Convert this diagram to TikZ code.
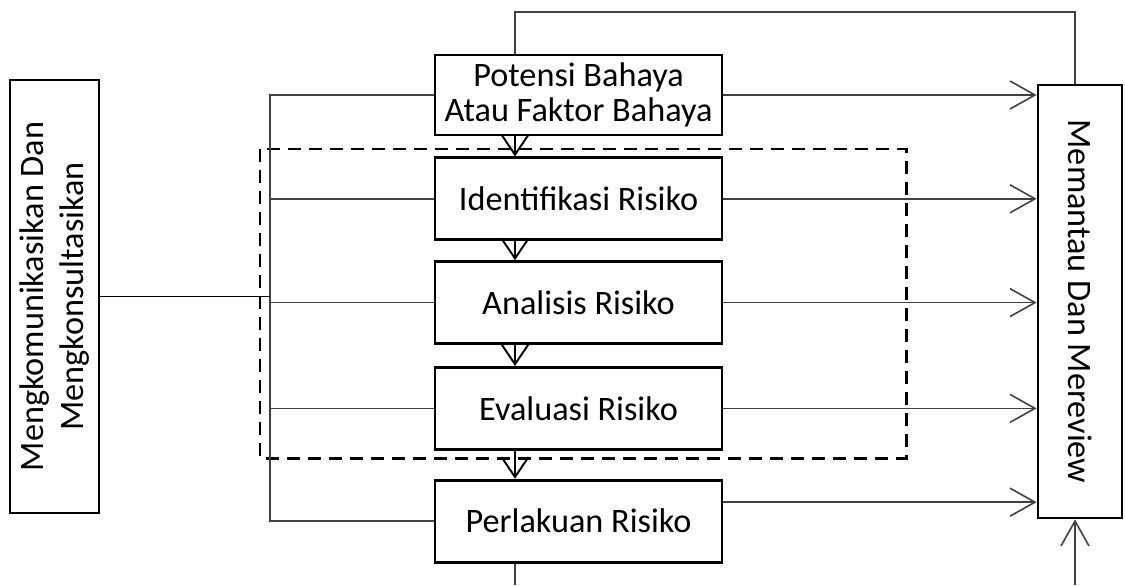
\documentclass[tikz,border=0pt]{standalone}
\usepackage{fontspec}
\setmainfont{Carlito}
\usetikzlibrary{arrows.meta,positioning,calc}

\begin{document}
\begin{tikzpicture}[x=0.02cm,y=-0.02cm,
  font=\fontsize{19.5}{20}\selectfont,
  stage/.style={draw,line width=1.6pt,minimum width=5.74cm,minimum height=1.64cm,align=center,inner sep=0pt},
  side/.style={draw,line width=1.6pt,minimum width=8.66cm,align=center,inner sep=0pt},
  link/.style={draw=black!75,line width=0.9pt},
  flow/.style={link,-{Straight Barb[length=0.5cm,width=0.56cm,line width=0.9pt]}},
  down/.style={line width=1.1pt,-{Straight Barb[length=0.4cm,width=0.54cm]}},
  frame/.style={line width=1.7pt,dash pattern=on 0.26cm off 0.16cm}]
	\useasboundingbox (0,0) rectangle (1125,585);
	% draw stage boxes
	\node[stage,minimum height=1.6cm] (pot) at (578.5,95) {Potensi Bahaya\\Atau Faktor Bahaya};
	\node[stage,below=0.4cm of pot] (ide) {Identifikasi Risiko};
	\node[stage,below=0.38cm of ide] (ana) {Analisis Risiko};
	\node[stage,below=0.42cm of ana] (eva) {Evaluasi Risiko};
	\node[stage,below=0.56cm of eva] (per) {Perlakuan Risiko};
	% draw side boxes
	\node[side,minimum height=1.78cm,rotate=90,font=\fontsize{19.5}{23}\selectfont] (kom) at (54.5,296.5) {Mengkomunikasikan Dan\\Mengkonsultasikan};
	\node[side,minimum height=1.68cm,rotate=-90] (rev) at (1080,301.5) {Memantau Dan Mereview};
	% draw dashed frame
	\draw[frame] (260,149) rectangle (906,458);
	% draw helper coordinates
	\coordinate (bus) at (270,0);
	\coordinate (ax) at (515,0);
	\coordinate (rx) at (1075,0);
	\coordinate (top) at (0,12);
	\coordinate (bot) at (0,585);
	% draw left bus
	\draw[link] (pot.west) -- (pot.west -| bus) -- (per.west -| bus) -- (per.west);
	\foreach \n in {ide,ana,eva}
	\draw[link] (\n.west) -- (\n.west -| bus);
	\draw[link,draw=black,line width=1.1pt] (kom.south) -- (kom.south -| bus);
	% draw arrows to the right box
	\foreach \n in {pot,ide,ana,eva}
	\draw[flow] (\n.east) -- (\n.east -| rev.south);
	\path ([yshift=0.38cm]per.east) coordinate (pout);
	\draw[flow] (pout) -- (pout -| rev.south);
	% draw arrows between stages
	\foreach \a/\b in {pot/ide,ide/ana,ana/eva,eva/per}
	\draw[down] (\a.south -| ax) -- (\b.north -| ax);
	% draw loops
	\draw[link] (pot.north -| ax) |- (top -| rx) -- (rx |- rev.west);
	\draw[link] (per.south -| ax) -- (bot -| ax);
	\draw[flow] (bot -| rx) -- (rx |- rev.east);
\end{tikzpicture}
\end{document}
